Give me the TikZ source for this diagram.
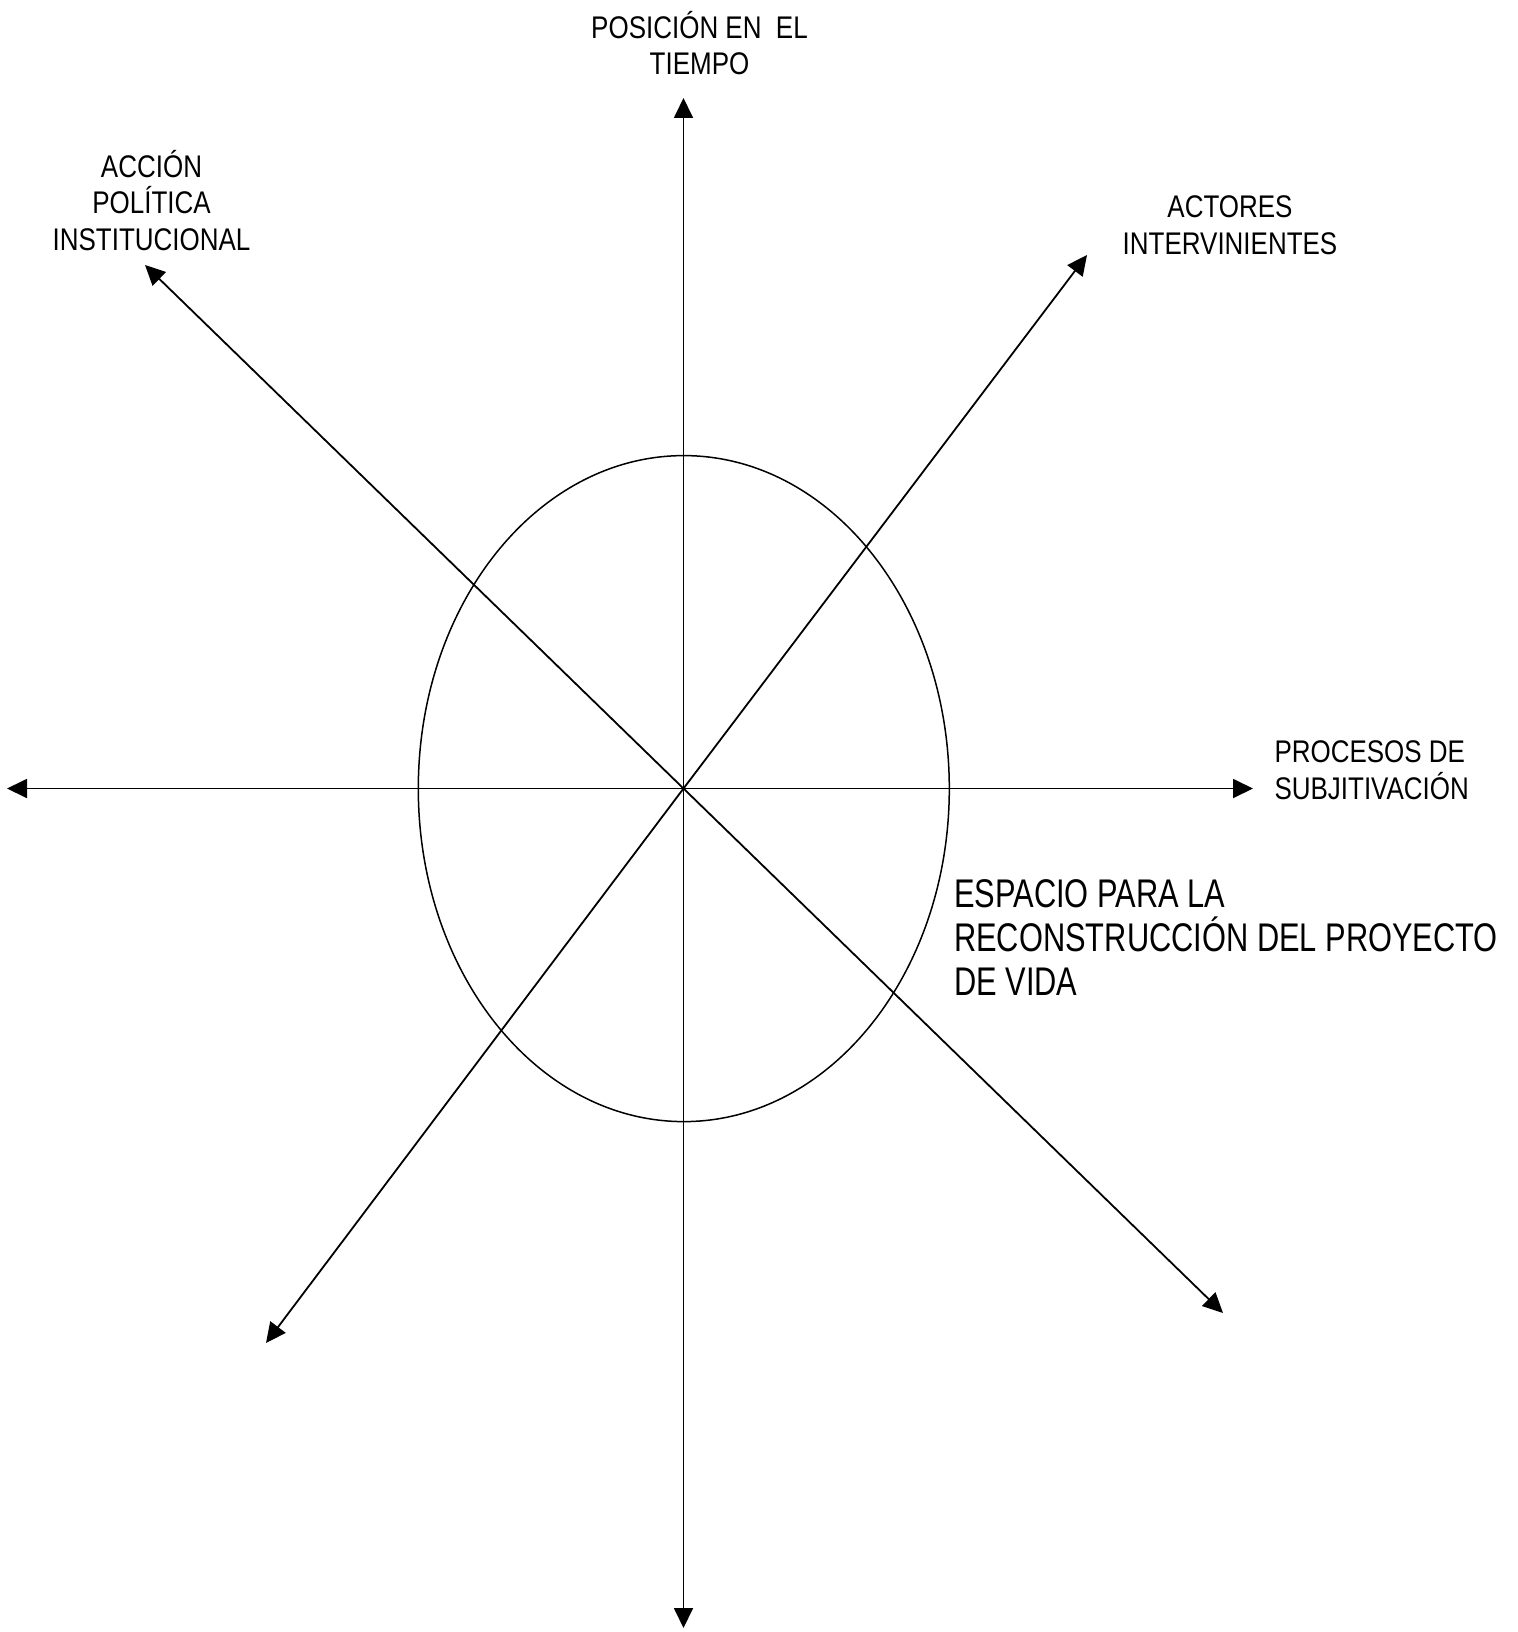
\documentclass[tikz,border=0pt]{standalone}
\usepackage{fontspec}
\usetikzlibrary{arrows.meta}
\newfontfamily\smallfam[FakeStretch=0.83]{Liberation Sans}
\newfontfamily\largefam[FakeStretch=0.77]{Liberation Sans}
\tikzset{
  axis/.style={line width=1.8pt, -{Triangle[length=20pt,width=19pt]}},
  ring/.style={line width=1.5pt},
  smalllabel/.style={inner sep=0pt, font=\smallfam\fontsize{31.3pt}{36.8pt}\selectfont},
  largelabel/.style={inner sep=0pt, align=left, anchor=base west, font=\largefam\fontsize{40pt}{44.3pt}\selectfont}
}
\begin{document}
\begin{tikzpicture}[x=1pt,y=-1pt]
\useasboundingbox (0,0) rectangle (1517,1632);
\coordinate (c) at (683.5,788.5);
\coordinate (n) at (683.5,98);
\coordinate (s) at (683.5,1628);
\coordinate (w) at (7,788.5);
\coordinate (e) at (1253,788.5);
\coordinate (nw) at (145,265);
\coordinate (se) at (1223,1313);
\coordinate (ne) at (1087,255);
\coordinate (sw) at (266,1343);
\draw[ring] (683.8,788.6) ellipse [x radius=265.5pt, y radius=333pt];
\foreach \t in {n,s,w,e,nw,se,ne,sw} \draw[axis] (c) -- (\t);
\node[smalllabel, align=center, anchor=base] (tiempo) at (699.5,75) {POSICIÓN EN~~EL\\TIEMPO};
\node[smalllabel, align=center, anchor=base] (accion) at (151.5,250.7) {ACCIÓN\\POLÍTICA\\INSTITUCIONAL};
\node[smalllabel, align=center, anchor=base] (actores) at (1230,254) {ACTORES\\INTERVINIENTES};
\node[smalllabel, align=left, anchor=base west] (procesos) at (1274.3,799.3) {PROCESOS DE\\SUBJITIVACIÓN};
\node[largelabel] (espacio) at (954,995.7) {ESPACIO PARA LA\\RECONSTRUCCIÓN DEL PROYECTO\\DE VIDA};
\end{tikzpicture}
\end{document}
